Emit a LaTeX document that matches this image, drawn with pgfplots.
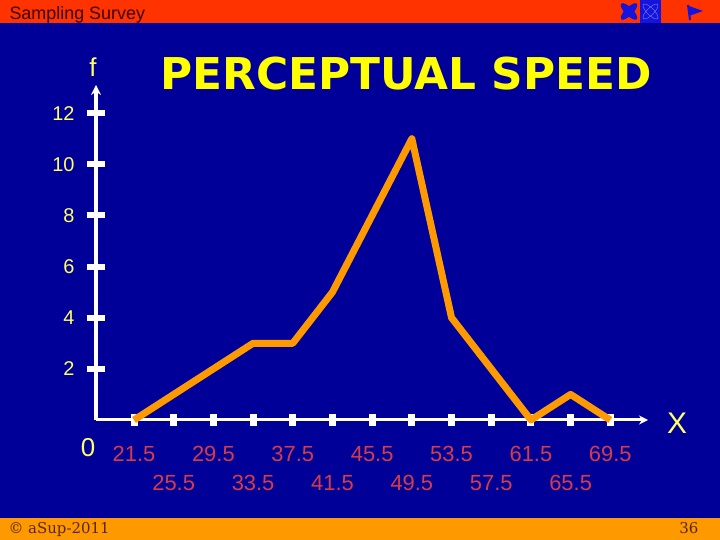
\documentclass[border=0pt]{standalone}
\usepackage{pgfplots}
\pgfplotsset{compat=1.18}
\usetikzlibrary{arrows.meta}
\usepackage{fontspec}
\setmainfont{Liberation Sans}
\newfontfamily\titlefont{DejaVu Sans}
\newfontfamily\footfont{DejaVu Serif}

\definecolor{slidebg}{RGB}{0,0,153}
\definecolor{topbar}{RGB}{255,51,0}
\definecolor{botbar}{RGB}{255,153,0}
\definecolor{lblyellow}{RGB}{255,255,102}
\definecolor{titleyellow}{RGB}{255,255,0}
\definecolor{lblred}{RGB}{215,60,70}
\definecolor{lineorange}{RGB}{255,153,0}
\definecolor{headtext}{RGB}{60,0,0}
\definecolor{foottext}{RGB}{90,40,0}
\definecolor{iconblue}{RGB}{20,20,220}

\begin{document}
\begin{tikzpicture}[x=1bp,y=1bp]
\useasboundingbox (0,0) rectangle (720,540);
% slide background and bars
\fill[slidebg] (0,0) rectangle (720,540);
\fill[topbar] (0,517) rectangle (720,540);
\fill[botbar] (0,0) rectangle (720,22);
\node[anchor=base west, headtext, font=\fontsize{18}{20}\selectfont] at (6,520) {Sampling Survey};
% navigation icons
\fill[iconblue, rotate around={45:(629,528.5)}] (629,528.5) ellipse (11 and 4);
\fill[iconblue, rotate around={-45:(629,528.5)}] (629,528.5) ellipse (11 and 4);
\fill[iconblue] (640,517) rectangle (661,540);
\draw[blue!50!white, rotate around={45:(650.5,528.5)}] (650.5,528.5) ellipse (10 and 3.5);
\draw[blue!50!white, rotate around={-45:(650.5,528.5)}] (650.5,528.5) ellipse (10 and 3.5);
\draw[iconblue, line width=2] (688,535) -- (690,520);
\fill[iconblue] (689,534) -- (703,529) -- (689,524) -- cycle;
% footer
\node[anchor=base west, foottext, font=\footfont\fontsize{15}{17}\selectfont] at (5,6) {© aSup-2011};
\node[anchor=base east, foottext, font=\footfont\fontsize{15}{17}\selectfont] at (702,6) {36};
% title
\node[titleyellow, font=\titlefont\bfseries\fontsize{44}{50}\selectfont] at (406,466.5) {PERCEPTUAL SPEED};

\begin{axis}[
    at={(96bp,120bp)}, anchor=south west,
    scale only axis,
    width=552bp, height=335bp,
    xmin=17.67, xmax=73.3,
    ymin=0, ymax=13.1,
    clip=false,
    axis x line=bottom, axis y line=left,
    x axis line style={white, line width=3bp, -{Stealth[length=9bp,width=9bp]}},
    y axis line style={white, line width=4bp, -{Stealth[length=10bp,width=10bp]}},
    tick align=center,
    major tick length=12bp,
    xtick style={white, line width=7bp},
    ytick style={white, line width=6bp, /pgfplots/major tick length=18bp},
    xtick={21.5,29.5,37.5,45.5,53.5,61.5,69.5},
    extra x ticks={25.5,33.5,41.5,49.5,57.5,65.5},
    extra x tick style={xticklabel style={yshift=-29bp}},
    ytick={2,4,6,8,10,12},
    /pgf/number format/assume math mode=true,
    /pgf/number format/fixed,
    xticklabel style={lblred, font=\fontsize{22}{24}\selectfont, yshift=-17bp,
        /pgf/number format/precision=1, /pgf/number format/fixed zerofill},
    yticklabel style={lblyellow, font=\fontsize{20}{22}\selectfont, xshift=-12bp},
]
\addplot[lineorange, line width=7bp, line join=round] coordinates {
    (21.5,0) (25.5,1) (29.5,2) (33.5,3) (37.5,3) (41.5,5) (45.5,8)
    (49.5,11) (53.5,4) (57.5,2) (61.5,0) (65.5,1) (69.5,0)
};
\end{axis}

\node[lblyellow, font=\fontsize{26}{28}\selectfont] at (88,92.5) {0};
\node[lblyellow, font=\fontsize{26}{28}\selectfont] at (93,473) {f};
\node[lblyellow, font=\fontsize{30}{32}\selectfont] at (677,117) {X};
\end{tikzpicture}
\end{document}
